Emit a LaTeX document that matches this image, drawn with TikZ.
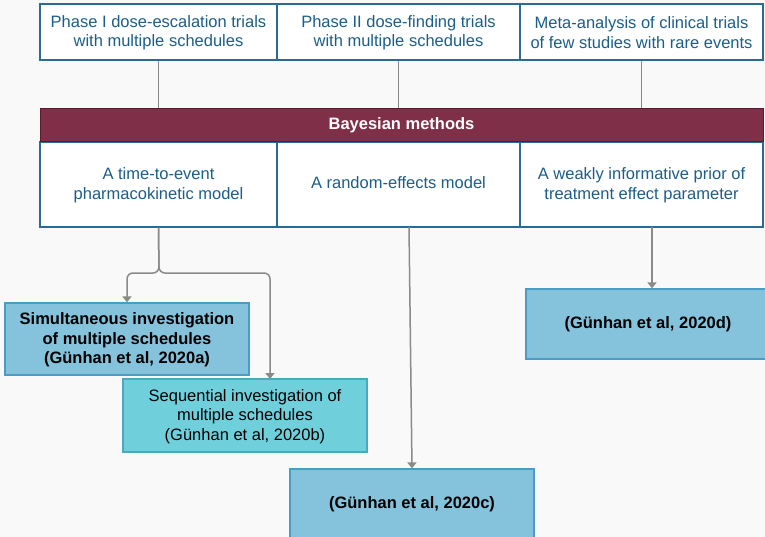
\documentclass[tikz,border=0pt]{standalone}
\usepackage{fontspec}
\setmainfont{Liberation Sans}
\usetikzlibrary{arrows.meta}
\definecolor{bg}{HTML}{F9F9F9}
\definecolor{bluetxt}{HTML}{1B5E89}
\definecolor{blueline}{HTML}{2A6A94}
\definecolor{maroon}{HTML}{7F2F47}
\definecolor{maroondk}{HTML}{5C1A2F}
\definecolor{simfill}{HTML}{85C3DC}
\definecolor{simline}{HTML}{4A9CC4}
\definecolor{seqfill}{HTML}{6FD0DC}
\definecolor{seqline}{HTML}{4AA9BF}
\definecolor{conn}{HTML}{8A8A8A}
\tikzset{
  every node/.style={font=\fontsize{16.5}{19.5}\selectfont, align=center, inner sep=0pt},
  wbox/.style={draw=blueline, line width=1.2pt, fill=white, text=bluetxt},
  bar/.style={draw=maroondk, line width=1pt, fill=maroon, text=white, font=\fontsize{16.5}{19}\selectfont\bfseries},
  simbox/.style={draw=simline, line width=1.2pt, fill=simfill, text=black},
  seqbox/.style={draw=seqline, line width=1.2pt, fill=seqfill, text=black},
  connline/.style={draw=conn, line width=1.5pt},
  arr/.style={connline, -{Triangle[width=9pt,length=6pt]}},
}
\begin{document}
\begin{tikzpicture}[x=1pt,y=-1pt]
\useasboundingbox (0,0) rectangle (765,537);
\fill[bg] (0,0) rectangle (765,537);
\begin{scope}
\clip (0,0) rectangle (765,537);
% top row
\node[wbox, minimum width=237pt, minimum height=56pt] (t1) at (158.5,32) {\strut Phase I dose-escalation trials\\with multiple schedules};
\node[wbox, minimum width=243pt, minimum height=56pt] (t2) at (398.5,32) {\strut Phase II dose-finding trials\\with multiple schedules};
\node[wbox, minimum width=243pt, minimum height=56pt] (t3) at (641.5,32) {\strut Meta-analysis of clinical trials\\of few studies with rare events};
% middle row
\node[wbox, minimum width=237pt, minimum height=85pt] (m1) at (158.5,184.5) {\strut A time-to-event\\pharmacokinetic model};
\node[wbox, minimum width=243pt, minimum height=85pt] (m2) at (398.5,184.5) {\strut A random-effects model};
\node[wbox, minimum width=243pt, minimum height=85pt] (m3) at (641.5,184.5) {\strut A weakly informative prior of\\treatment effect parameter};
% connectors behind bar
\draw[connline] (t1.south) -- (m1.north);
\draw[connline] (t2.south) -- (m2.north);
\draw[connline] (t3.south) -- (m3.north);
% bar
\node[bar, minimum width=723pt, minimum height=33pt] (bm) at (401.5,125.5) {Bayesian methods};
% results
\node[simbox, minimum width=244pt, minimum height=72pt, font=\fontsize{16.5}{19.5}\selectfont\bfseries] (sim) at (127,339) {\strut Simultaneous investigation\\of multiple schedules\\(Günhan et al, 2020a)};
\node[seqbox, minimum width=244pt, minimum height=73pt] (seq) at (245,415.5) {\strut Sequential investigation of\\multiple schedules\\(Günhan et al, 2020b)};
\node[simbox, minimum width=244pt, minimum height=70pt, font=\fontsize{16.5}{19.5}\selectfont\bfseries] (rc) at (412,504) {(Günhan et al, 2020c)};
\node[simbox, minimum width=244pt, minimum height=70pt, font=\fontsize{16.5}{19.5}\selectfont\bfseries] (rd) at (648,324) {(Günhan et al, 2020d)};
% lower connectors
\coordinate (j1) at (159,273);
\coordinate (seqin) at (270,379);
\coordinate (m2out) at (409,227);
\coordinate (m3out) at (652,227);
\draw[arr, rounded corners=6pt] (m1.south) -- (j1) -| (sim.north);
\draw[arr, rounded corners=6pt] (m1.south) -- (j1) -| (seqin);
\draw[arr] (m2out) -- (rc.north);
\draw[arr] (m3out) -- (m3out |- rd.north);
\end{scope}
\end{tikzpicture}
\end{document}
